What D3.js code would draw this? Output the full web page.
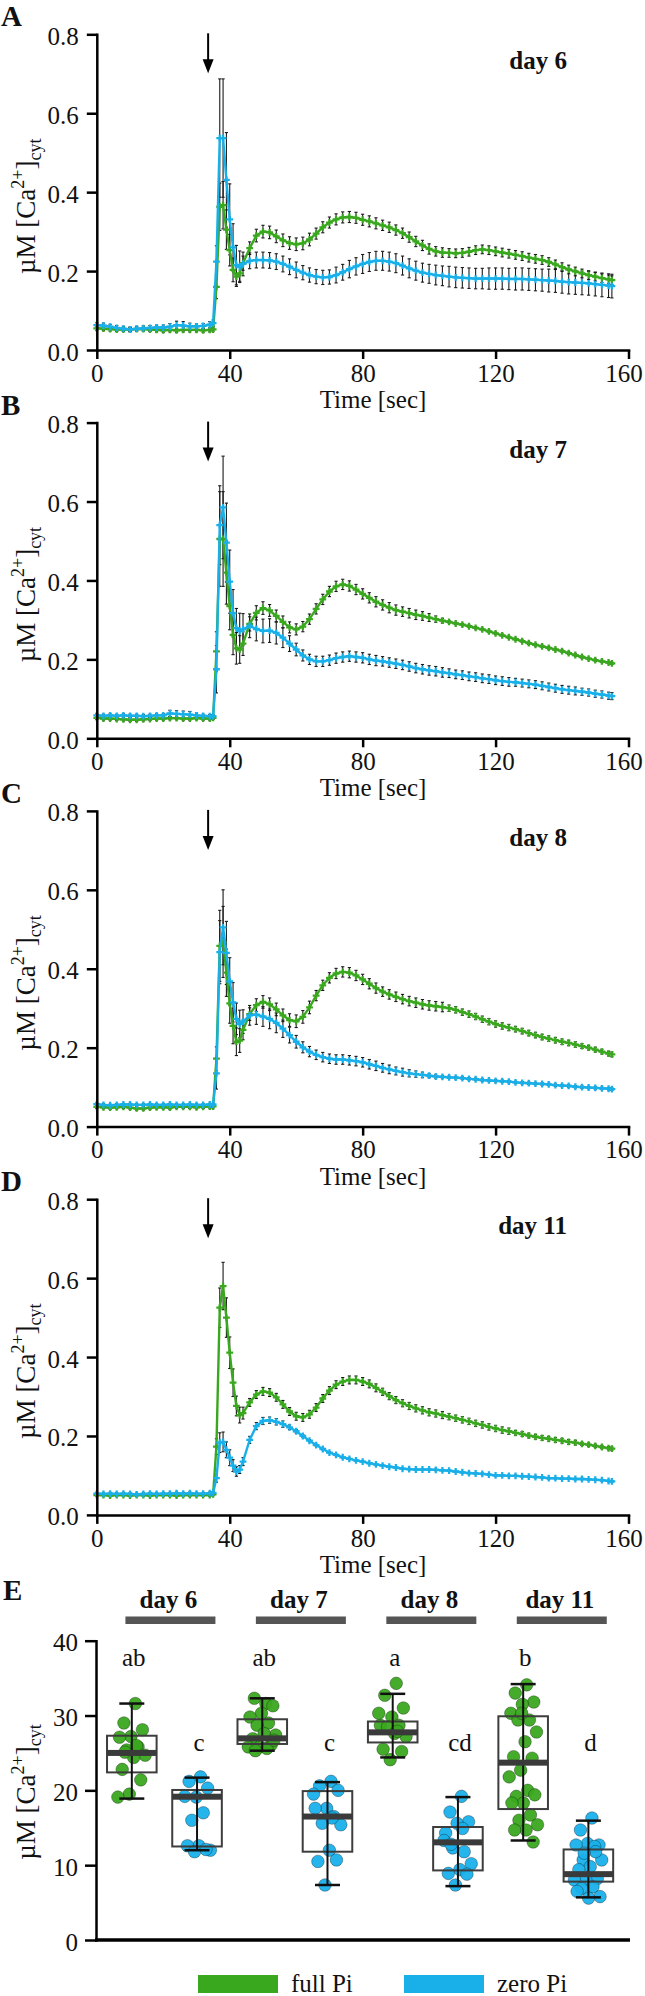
<!DOCTYPE html>
<html>
<head>
<meta charset="utf-8">
<script src="https://cdn.jsdelivr.net/npm/d3@7"></script>
<style>
  body { margin: 0; background: #fff; }
  svg { display: block; }
  text { font-family: "Liberation Serif", "Times New Roman", serif; fill: #111; }
</style>
</head>
<body>
<svg id="fig" width="645" height="1996"></svg>
<script>
// ---------- time courses (panels A-D) ----------
// sample times [sec]: 2 s steps on the baseline, 1 s around the peak, 2 s afterwards
const times = [
  0, 2, 4, 6, 8, 10, 12, 14, 16, 18, 20, 22, 24, 26, 28, 30, 32, 34,
  35, 36, 37, 38, 39, 40, 41, 42, 43, 44,
  46, 48, 50, 52, 54, 56, 58, 60, 62, 64,
  66, 68, 70, 72, 74, 76, 78, 80, 82, 84,
  86, 88, 90, 92, 94, 96, 98, 100, 102, 104,
  106, 108, 110, 112, 114, 116, 118, 120, 122, 124,
  126, 128, 130, 132, 134, 136, 138, 140, 142, 144,
  146, 148, 150, 152, 154, 155
];

// day 6
const fullA = [
  0.055, 0.054, 0.053, 0.052, 0.052, 0.052, 0.053, 0.053, 0.052, 0.051,
  0.05, 0.051, 0.05, 0.051, 0.051, 0.051, 0.05, 0.051,
  0.052, 0.16, 0.363, 0.367, 0.305, 0.253, 0.203, 0.186, 0.194, 0.22,
  0.258, 0.29, 0.3, 0.298, 0.288, 0.278, 0.271, 0.268, 0.27, 0.28,
  0.295, 0.311, 0.323, 0.331, 0.336, 0.337, 0.335, 0.33, 0.326, 0.321,
  0.316, 0.311, 0.304, 0.296, 0.286, 0.275, 0.265, 0.256, 0.25, 0.247,
  0.246, 0.245, 0.246, 0.249, 0.253, 0.255, 0.253, 0.25, 0.247, 0.244,
  0.241, 0.238, 0.234, 0.231, 0.228, 0.223, 0.217, 0.21, 0.204, 0.199,
  0.194, 0.19, 0.186, 0.182, 0.179, 0.177
];
const zeroA = [
  0.063, 0.062, 0.059, 0.056, 0.054, 0.052, 0.054, 0.055, 0.056, 0.057,
  0.057, 0.059, 0.063, 0.062, 0.06, 0.06, 0.061, 0.064,
  0.068, 0.224, 0.537, 0.537, 0.431, 0.331, 0.26, 0.215, 0.211, 0.218,
  0.226, 0.228, 0.228, 0.227, 0.224, 0.218, 0.211, 0.203, 0.196, 0.19,
  0.186, 0.184, 0.185, 0.19, 0.197, 0.205, 0.212, 0.218, 0.223, 0.226,
  0.226, 0.224, 0.22, 0.214, 0.207, 0.201, 0.196, 0.193, 0.19, 0.188,
  0.186, 0.184, 0.183, 0.182, 0.181, 0.181, 0.181, 0.181, 0.181, 0.18,
  0.18, 0.18, 0.179, 0.178, 0.177, 0.176, 0.175, 0.173, 0.172, 0.171,
  0.17, 0.169, 0.167, 0.165, 0.163, 0.162
];
const errFullA = [
  0.005, 0.005, 0.005, 0.005, 0.005, 0.005, 0.005, 0.005, 0.005, 0.005,
  0.005, 0.005, 0.005, 0.005, 0.005, 0.005, 0.005, 0.005,
  0.004, 0.03, 0.06, 0.06, 0.05, 0.04, 0.03, 0.025, 0.02, 0.018,
  0.016, 0.016, 0.016, 0.016, 0.016, 0.016, 0.016, 0.016, 0.016, 0.016,
  0.014, 0.014, 0.014, 0.014, 0.014, 0.014, 0.014, 0.014, 0.014, 0.014,
  0.013, 0.013, 0.013, 0.013, 0.013, 0.013, 0.013, 0.013, 0.012, 0.012,
  0.011, 0.011, 0.011, 0.011, 0.011, 0.011, 0.011, 0.011, 0.011, 0.011,
  0.011, 0.011, 0.011, 0.011, 0.011, 0.011, 0.011, 0.011, 0.011, 0.011,
  0.011, 0.011, 0.011, 0.011, 0.011, 0.011
];
const errZeroA = [
  0.006, 0.006, 0.006, 0.006, 0.006, 0.006, 0.006, 0.006, 0.006, 0.006,
  0.006, 0.008, 0.01, 0.01, 0.008, 0.006, 0.006, 0.008,
  0.008, 0.04, 0.15, 0.15, 0.12, 0.09, 0.06, 0.05, 0.04, 0.03,
  0.02, 0.02, 0.02, 0.02, 0.02, 0.02, 0.02, 0.02, 0.018, 0.018,
  0.018, 0.018, 0.018, 0.02, 0.02, 0.022, 0.022, 0.024, 0.024, 0.024,
  0.024, 0.024, 0.024, 0.024, 0.024, 0.024, 0.024, 0.024, 0.025, 0.025,
  0.026, 0.026, 0.026, 0.026, 0.026, 0.026, 0.027, 0.027, 0.027, 0.027,
  0.028, 0.028, 0.028, 0.028, 0.028, 0.029, 0.029, 0.029, 0.03, 0.03,
  0.03, 0.03, 0.03, 0.03, 0.03, 0.03
];

// day 7
const fullB = [
  0.052, 0.05, 0.05, 0.049, 0.048, 0.047, 0.047, 0.048, 0.049, 0.05,
  0.05, 0.051, 0.051, 0.05, 0.05, 0.051, 0.05, 0.05,
  0.052, 0.22, 0.505, 0.505, 0.42, 0.335, 0.262, 0.228, 0.225, 0.24,
  0.29, 0.318, 0.33, 0.324, 0.31, 0.295, 0.281, 0.276, 0.283, 0.302,
  0.328, 0.352, 0.372, 0.385, 0.39, 0.386, 0.377, 0.366, 0.356, 0.346,
  0.338, 0.331, 0.325, 0.321, 0.317, 0.313, 0.31, 0.306, 0.302, 0.298,
  0.295, 0.291, 0.288, 0.284, 0.28, 0.276, 0.271, 0.266, 0.261, 0.256,
  0.251, 0.246, 0.241, 0.237, 0.233, 0.229, 0.225, 0.221, 0.216, 0.211,
  0.206, 0.202, 0.198, 0.195, 0.192, 0.19
];
const zeroB = [
  0.058, 0.057, 0.058, 0.057, 0.058, 0.057, 0.057, 0.056, 0.057, 0.058,
  0.058, 0.063, 0.062, 0.061, 0.06, 0.058, 0.057, 0.056,
  0.056, 0.175, 0.54, 0.585, 0.496, 0.397, 0.317, 0.279, 0.272, 0.276,
  0.285, 0.277, 0.272, 0.273, 0.267, 0.255, 0.24, 0.225, 0.21, 0.2,
  0.195, 0.195, 0.198, 0.203, 0.206, 0.208, 0.206, 0.204, 0.2, 0.197,
  0.195, 0.192, 0.189, 0.186, 0.182, 0.178, 0.175, 0.172, 0.17, 0.167,
  0.165, 0.162, 0.16, 0.157, 0.155, 0.152, 0.15, 0.147, 0.145, 0.143,
  0.142, 0.14, 0.138, 0.136, 0.133, 0.13, 0.127, 0.124, 0.122, 0.12,
  0.118, 0.116, 0.113, 0.111, 0.108, 0.107
];
const errFullB = [
  0.004, 0.004, 0.004, 0.004, 0.004, 0.004, 0.004, 0.004, 0.004, 0.004,
  0.004, 0.004, 0.004, 0.004, 0.004, 0.004, 0.004, 0.004,
  0.004, 0.05, 0.12, 0.12, 0.08, 0.06, 0.05, 0.04, 0.035, 0.03,
  0.018, 0.018, 0.016, 0.015, 0.015, 0.015, 0.014, 0.014, 0.013, 0.013,
  0.013, 0.013, 0.013, 0.013, 0.013, 0.013, 0.013, 0.013, 0.013, 0.013,
  0.013, 0.013, 0.013, 0.012, 0.012, 0.012, 0.011, 0.01, 0.008, 0.006,
  0.003, 0.003, 0.003, 0.003, 0.003, 0.003, 0.003, 0.003, 0.003, 0.003,
  0.003, 0.003, 0.003, 0.003, 0.003, 0.003, 0.003, 0.003, 0.003, 0.003,
  0.003, 0.003, 0.003, 0.003, 0.003, 0.003
];
const errZeroB = [
  0.004, 0.004, 0.004, 0.004, 0.004, 0.004, 0.004, 0.004, 0.004, 0.004,
  0.004, 0.008, 0.008, 0.008, 0.008, 0.006, 0.004, 0.004,
  0.004, 0.06, 0.1, 0.13, 0.1, 0.08, 0.06, 0.05, 0.045, 0.04,
  0.03, 0.03, 0.03, 0.03, 0.028, 0.025, 0.02, 0.016, 0.014, 0.013,
  0.013, 0.013, 0.013, 0.013, 0.013, 0.013, 0.013, 0.013, 0.013, 0.013,
  0.012, 0.012, 0.012, 0.012, 0.012, 0.012, 0.012, 0.012, 0.012, 0.012,
  0.011, 0.011, 0.011, 0.011, 0.011, 0.011, 0.011, 0.011, 0.011, 0.011,
  0.01, 0.01, 0.01, 0.01, 0.01, 0.01, 0.01, 0.01, 0.01, 0.01,
  0.009, 0.009, 0.009, 0.009, 0.009, 0.009
];

// day 8
const fullC = [
  0.05, 0.049, 0.048, 0.049, 0.05, 0.048, 0.046, 0.046, 0.048, 0.049,
  0.049, 0.048, 0.05, 0.05, 0.05, 0.049, 0.05, 0.051,
  0.051, 0.172, 0.458, 0.468, 0.39, 0.312, 0.255, 0.215, 0.218, 0.245,
  0.285, 0.308, 0.316, 0.31, 0.297, 0.282, 0.27, 0.267, 0.278, 0.302,
  0.332, 0.358, 0.377, 0.388, 0.392, 0.39, 0.383, 0.373, 0.362, 0.351,
  0.342, 0.335, 0.329, 0.323, 0.318, 0.314, 0.31, 0.307, 0.305, 0.303,
  0.3, 0.296, 0.29, 0.285, 0.279, 0.272, 0.266, 0.26, 0.255, 0.251,
  0.247, 0.242, 0.237, 0.232, 0.227, 0.223, 0.219, 0.215, 0.212, 0.208,
  0.204, 0.2, 0.195, 0.19, 0.185, 0.183
];
const zeroC = [
  0.057, 0.055, 0.054, 0.055, 0.056, 0.056, 0.055, 0.055, 0.056, 0.055,
  0.055, 0.056, 0.055, 0.055, 0.056, 0.055, 0.055, 0.056,
  0.056, 0.135, 0.442, 0.505, 0.44, 0.368, 0.315, 0.273, 0.26, 0.266,
  0.282, 0.284, 0.279, 0.273, 0.263, 0.248, 0.232, 0.215, 0.201, 0.19,
  0.182, 0.176, 0.172, 0.17, 0.17, 0.168, 0.166, 0.163, 0.158, 0.154,
  0.149, 0.145, 0.141, 0.138, 0.135, 0.133, 0.131, 0.129, 0.127, 0.126,
  0.125, 0.124, 0.123, 0.121, 0.12, 0.118, 0.117, 0.116, 0.115, 0.114,
  0.112, 0.111, 0.11, 0.109, 0.108, 0.107, 0.105, 0.104, 0.103, 0.101,
  0.1, 0.099, 0.098, 0.097, 0.096, 0.095
];
const errFullC = [
  0.004, 0.004, 0.004, 0.004, 0.004, 0.004, 0.004, 0.004, 0.004, 0.004,
  0.004, 0.004, 0.004, 0.004, 0.004, 0.004, 0.004, 0.004,
  0.004, 0.03, 0.09, 0.09, 0.06, 0.05, 0.045, 0.035, 0.03, 0.025,
  0.016, 0.016, 0.016, 0.016, 0.016, 0.016, 0.016, 0.016, 0.016, 0.016,
  0.013, 0.013, 0.013, 0.013, 0.013, 0.013, 0.013, 0.013, 0.013, 0.013,
  0.012, 0.012, 0.012, 0.012, 0.012, 0.012, 0.012, 0.012, 0.012, 0.012,
  0.008, 0.008, 0.008, 0.008, 0.008, 0.008, 0.008, 0.008, 0.008, 0.008,
  0.007, 0.007, 0.007, 0.007, 0.007, 0.007, 0.007, 0.007, 0.007, 0.007,
  0.006, 0.006, 0.006, 0.006, 0.006, 0.006
];
const errZeroC = [
  0.003, 0.003, 0.003, 0.003, 0.003, 0.003, 0.003, 0.003, 0.003, 0.003,
  0.003, 0.003, 0.003, 0.003, 0.003, 0.003, 0.003, 0.003,
  0.003, 0.04, 0.08, 0.095, 0.08, 0.06, 0.05, 0.04, 0.035, 0.03,
  0.025, 0.025, 0.025, 0.025, 0.025, 0.022, 0.02, 0.016, 0.014, 0.013,
  0.012, 0.012, 0.012, 0.012, 0.012, 0.012, 0.012, 0.012, 0.012, 0.012,
  0.011, 0.011, 0.01, 0.01, 0.009, 0.008, 0.007, 0.005, 0.004, 0.003,
  0.003, 0.003, 0.003, 0.003, 0.003, 0.003, 0.003, 0.003, 0.003, 0.003,
  0.003, 0.003, 0.003, 0.003, 0.003, 0.003, 0.003, 0.003, 0.003, 0.003,
  0.003, 0.003, 0.003, 0.003, 0.003, 0.003
];

// day 11
const fullD = [
  0.05, 0.05, 0.049, 0.05, 0.05, 0.049, 0.05, 0.05, 0.049, 0.05,
  0.05, 0.05, 0.049, 0.05, 0.05, 0.05, 0.05, 0.05,
  0.052, 0.173, 0.525, 0.58, 0.5, 0.411, 0.335, 0.276, 0.253, 0.258,
  0.285, 0.305, 0.313, 0.31, 0.298, 0.28, 0.262, 0.25, 0.247, 0.255,
  0.272, 0.295, 0.315, 0.33, 0.338, 0.342, 0.342, 0.338, 0.332, 0.322,
  0.312, 0.301, 0.291, 0.283, 0.276, 0.27, 0.265, 0.26, 0.257, 0.253,
  0.249, 0.245, 0.241, 0.237, 0.232, 0.228, 0.223, 0.219, 0.215, 0.212,
  0.208, 0.205, 0.201, 0.198, 0.195, 0.193, 0.19, 0.188, 0.185, 0.183,
  0.18, 0.178, 0.175, 0.172, 0.169, 0.168
];
const zeroD = [
  0.054, 0.053, 0.054, 0.053, 0.054, 0.053, 0.052, 0.053, 0.054, 0.053,
  0.054, 0.054, 0.055, 0.054, 0.055, 0.054, 0.054, 0.055,
  0.056, 0.093, 0.183, 0.185, 0.165, 0.145, 0.125, 0.11, 0.115, 0.135,
  0.19, 0.225, 0.238, 0.24, 0.236, 0.23, 0.222, 0.212, 0.2, 0.188,
  0.177, 0.167, 0.158, 0.152, 0.146, 0.142, 0.138, 0.135, 0.131, 0.128,
  0.125, 0.122, 0.12, 0.117, 0.116, 0.115, 0.115, 0.115, 0.114, 0.113,
  0.112, 0.11, 0.108, 0.106, 0.105, 0.104, 0.102, 0.1, 0.1, 0.099,
  0.099, 0.098, 0.097, 0.096, 0.095, 0.093, 0.093, 0.092, 0.092, 0.091,
  0.091, 0.09, 0.089, 0.088, 0.086, 0.085
];
const errFullD = [
  0.003, 0.003, 0.003, 0.003, 0.003, 0.003, 0.003, 0.003, 0.003, 0.003,
  0.003, 0.003, 0.003, 0.003, 0.003, 0.003, 0.003, 0.003,
  0.003, 0.02, 0.05, 0.06, 0.05, 0.04, 0.035, 0.025, 0.02, 0.015,
  0.01, 0.01, 0.01, 0.01, 0.01, 0.01, 0.01, 0.01, 0.01, 0.01,
  0.01, 0.01, 0.01, 0.01, 0.01, 0.01, 0.01, 0.01, 0.01, 0.01,
  0.009, 0.009, 0.009, 0.009, 0.009, 0.009, 0.009, 0.009, 0.009, 0.009,
  0.008, 0.008, 0.008, 0.008, 0.008, 0.008, 0.008, 0.008, 0.008, 0.008,
  0.006, 0.006, 0.006, 0.006, 0.006, 0.006, 0.006, 0.006, 0.006, 0.006,
  0.004, 0.004, 0.004, 0.004, 0.004, 0.004
];
const errZeroD = [
  0.003, 0.003, 0.003, 0.003, 0.003, 0.003, 0.003, 0.003, 0.003, 0.003,
  0.003, 0.003, 0.003, 0.003, 0.003, 0.003, 0.003, 0.003,
  0.003, 0.01, 0.025, 0.025, 0.02, 0.02, 0.015, 0.012, 0.01, 0.01,
  0.009, 0.009, 0.009, 0.008, 0.008, 0.008, 0.006, 0.004, 0.003, 0.003,
  0.002, 0.002, 0.002, 0.002, 0.002, 0.002, 0.002, 0.002, 0.002, 0.002,
  0.002, 0.002, 0.002, 0.002, 0.002, 0.002, 0.002, 0.002, 0.002, 0.002,
  0.002, 0.002, 0.002, 0.002, 0.002, 0.002, 0.002, 0.002, 0.002, 0.002,
  0.002, 0.002, 0.002, 0.002, 0.002, 0.002, 0.002, 0.002, 0.002, 0.002,
  0.002, 0.002, 0.002, 0.002, 0.002, 0.002
];

const panelLetters = ['A', 'B', 'C', 'D'];
const panelDays = ['day 6', 'day 7', 'day 8', 'day 11'];
const timeTicks = [0, 40, 80, 120, 160];
const caTicks = [0, 0.2, 0.4, 0.6, 0.8];
const stimulusTime = 33.5; // arrow

// ---------- box plots (panel E) ----------
const boxNames = ['full6', 'zero6', 'full7', 'zero7', 'full8', 'zero8', 'full11', 'zero11'];
const boxDays = ['day 6', 'day 7', 'day 8', 'day 11'];
const sigLetters = ['ab', 'c', 'ab', 'c', 'a', 'cd', 'b', 'd'];
const whiskerLow = [18.9, 12.0, 25.3, 7.35, 24.4, 7.2, 13.3, 5.7];
const q1 = [22.4, 12.5, 26.2, 11.8, 26.4, 9.3, 17.5, 7.8];
const median = [25.0, 19.15, 26.95, 16.5, 27.75, 13.05, 23.7, 8.8];
const q3 = [27.3, 20.05, 29.5, 19.9, 29.2, 15.1, 29.9, 12.1];
const whiskerHigh = [31.6, 21.7, 32.3, 21.1, 32.9, 19.1, 34.2, 15.95];
const points = [
  [31.6, 29.0, 28.1, 27.2, 27.1, 25.8, 25.4, 24.7, 24.4, 22.8, 21.4, 19.5, 19.1, 26.0, 25.1],
  [21.8, 21.2, 20.3, 19.1, 19.2, 17.0, 16.0, 12.0, 12.6, 12.6, 12.1, 11.8],
  [31.6, 32.3, 31.3, 30.3, 29.8, 29.0, 28.7, 27.4, 27.6, 26.9, 26.1, 25.8, 25.8, 25.6, 25.3, 26.7],
  [21.2, 20.6, 20.0, 17.6, 17.6, 16.5, 15.6, 15.4, 12.0, 10.5, 10.7, 7.35, 19.5, 16.3],
  [34.3, 32.7, 31.0, 29.8, 28.7, 28.7, 28.5, 27.2, 27.6, 25.5, 25.2, 24.1, 30.3, 27.9],
  [19.2, 17.1, 15.8, 15.6, 14.3, 11.8, 12.3, 10.2, 9.4, 8.9, 8.8, 7.35, 13.3, 14.9, 12.8],
  [34.1, 33.0, 31.8, 31.5, 30.3, 29.4, 29.4, 27.8, 26.5, 24.5, 24.3, 22.7, 21.8, 20.0, 19.2,
   19.4, 18.3, 18.3, 16.7, 16.0, 15.4, 14.7, 14.7, 13.1, 30.3],
  [16.3, 14.7, 12.7, 12.9, 12.7, 12.5, 10.7, 10.7, 9.8, 9.4, 8.2, 8.0, 8.0, 7.1, 6.9,
   5.8, 5.6, 6.5, 11.8, 11.6]
];
const eTicks = [0, 10, 20, 30, 40];
const legendLabels = ['full Pi', 'zero Pi'];

const green = '#3aa81f';
const blue = '#19b0ea';

const svg = d3.select('#fig');

function styleAxis(a, size) {
  a.select('.domain').attr('stroke', '#000').attr('stroke-width', 2.5).attr('stroke-linecap', 'square');
  a.selectAll('.tick line').attr('stroke', '#000').attr('stroke-width', 2.5);
  a.selectAll('.tick text').attr('font-size', size).attr('fill', '#111')
    .attr('font-family', '"Liberation Serif", serif');
}

function caLabel(sel) {
  sel.append('tspan').text('\u00b5M [Ca');
  sel.append('tspan').attr('dy', -11).attr('font-size', 18).text('2+');
  sel.append('tspan').attr('dy', 11).text(']');
  sel.append('tspan').attr('dy', 6).attr('font-size', 18).text('cyt');
}

////////////////////////
///// PANELS A - D /////
////////////////////////

const xTime = d3.scaleLinear().domain([0, 160]).range([96.8, 628.5]);
const traces = [
  { full: fullA, fullErr: errFullA, zero: zeroA, zeroErr: errZeroA },
  { full: fullB, fullErr: errFullB, zero: zeroB, zeroErr: errZeroB },
  { full: fullC, fullErr: errFullC, zero: zeroC, zeroErr: errZeroC },
  { full: fullD, fullErr: errFullD, zero: zeroD, zeroErr: errZeroD }
];

traces.forEach((p, i) => {
  const top = 34.3 + i * 388.3;
  const bottom = top + 315.7;
  const y = d3.scaleLinear().domain([0, 0.8]).range([bottom, top]);
  const g = svg.append('g');

  const series = [
    { vals: p.full, errs: p.fullErr, color: green },
    { vals: p.zero, errs: p.zeroErr, color: blue }
  ].map((s) => ({
    color: s.color,
    pts: times.map((t, k) => ({ t, v: s.vals[k], e: s.errs[k] || 0 })).filter((d) => d.v != null)
  }));

  // error bars under the traces
  series.forEach((s) => {
    const eb = g.append('g').attr('stroke', '#1b1b1b').attr('stroke-width', 1.1);
    eb.selectAll('line.bar').data(s.pts).join('line').attr('class', 'bar')
      .attr('x1', (d) => xTime(d.t)).attr('x2', (d) => xTime(d.t))
      .attr('y1', (d) => y(d.v + d.e)).attr('y2', (d) => y(d.v - d.e));
    eb.selectAll('line.capt').data(s.pts).join('line').attr('class', 'capt')
      .attr('x1', (d) => xTime(d.t) - 1.6).attr('x2', (d) => xTime(d.t) + 1.6)
      .attr('y1', (d) => y(d.v + d.e)).attr('y2', (d) => y(d.v + d.e));
    eb.selectAll('line.capb').data(s.pts).join('line').attr('class', 'capb')
      .attr('x1', (d) => xTime(d.t) - 1.6).attr('x2', (d) => xTime(d.t) + 1.6)
      .attr('y1', (d) => y(d.v - d.e)).attr('y2', (d) => y(d.v - d.e));
  });

  const line = d3.line().x((d) => xTime(d.t)).y((d) => y(d.v));
  series.forEach((s) => {
    g.append('path').datum(s.pts).attr('fill', 'none').attr('stroke', s.color)
      .attr('stroke-width', 2.4).attr('d', line);
    g.append('g').selectAll('path').data(s.pts).join('path')
      .attr('transform', (d) => `translate(${xTime(d.t)},${y(d.v)})`)
      .attr('d', d3.symbol(d3.symbolCross, 26))
      .attr('fill', s.color);
  });

  // axes
  const xa = g.append('g').attr('transform', `translate(0,${bottom})`)
    .call(d3.axisBottom(xTime).tickValues(timeTicks).tickSize(9).tickSizeOuter(0)
      .tickPadding(5).tickFormat(d3.format('d')));
  styleAxis(xa, 25);
  xa.selectAll('.tick text').filter((d) => d === 160).attr('dx', -5);
  const ya = g.append('g').attr('transform', `translate(${xTime(0)},0)`)
    .call(d3.axisLeft(y).tickValues(caTicks).tickSize(10).tickSizeOuter(0)
      .tickPadding(8).tickFormat(d3.format('.1f')));
  styleAxis(ya, 25);
  ya.selectAll('.tick text').attr('dy', '0.4em');

  g.append('text').attr('x', 373).attr('y', bottom + 58).attr('text-anchor', 'middle')
    .attr('font-size', 25).text('Time [sec]');
  g.append('text').attr('transform', `translate(35,${top + 172}) rotate(-90)`)
    .attr('text-anchor', 'middle').attr('font-size', 27).call(caLabel);

  // stimulus arrow
  const ax = xTime(stimulusTime);
  g.append('line').attr('x1', ax).attr('x2', ax).attr('y1', top - 1).attr('y2', top + 30)
    .attr('stroke', '#000').attr('stroke-width', 2);
  g.append('path').attr('d', `M${ax - 5.5},${top + 25}L${ax + 5.5},${top + 25}L${ax},${top + 39}Z`)
    .attr('fill', '#000');

  g.append('text').attr('x', 567).attr('y', top + 35).attr('text-anchor', 'end')
    .attr('font-size', 25).attr('font-weight', 'bold').text(panelDays[i]);
  g.append('text').attr('x', 1).attr('y', top - 8)
    .attr('font-family', '"Liberation Sans", Arial, sans-serif')
    .attr('font-size', 29).attr('font-weight', 'bold').text(panelLetters[i]);
});

////////////////////////
/////// PANEL E ////////
////////////////////////

const eTop = 1640.7, eBottom = 1940, eAxisX = 96;
const yE = d3.scaleLinear().domain([0, 40]).range([eBottom, eTop]);
const xBox = d3.scaleBand().domain(boxNames).range([99.2, 621]).paddingInner(0.24).paddingOuter(0.12);
const bw = xBox.bandwidth();
const ge = svg.append('g');

// steady horizontal spread of the points inside a box (golden-ratio sequence)
const spread = (j) => ((((j + 1) * 0.618034) % 1) - 0.5) * 30;

boxNames.forEach((name, k) => {
  const x0 = xBox(name);
  const cx = x0 + bw / 2;
  const col = k % 2 === 0 ? green : blue;

  ge.append('g').selectAll('circle').data(points[k]).join('circle')
    .attr('cx', (v, j) => cx + spread(j)).attr('cy', (v) => yE(v)).attr('r', 6.3)
    .attr('fill', col).attr('fill-opacity', 0.95)
    .attr('stroke', 'rgba(0,0,0,0.3)').attr('stroke-width', 1);

  ge.append('rect').attr('x', x0).attr('y', yE(q3[k])).attr('width', bw)
    .attr('height', yE(q1[k]) - yE(q3[k]))
    .attr('fill', 'none').attr('stroke', '#3d3d3d').attr('stroke-width', 2);
  ge.append('line').attr('x1', cx).attr('x2', cx)
    .attr('y1', yE(whiskerHigh[k])).attr('y2', yE(whiskerLow[k]))
    .attr('stroke', '#111').attr('stroke-width', 2);
  [whiskerLow[k], whiskerHigh[k]].forEach((v) => {
    ge.append('line').attr('x1', cx - 12.5).attr('x2', cx + 12.5)
      .attr('y1', yE(v)).attr('y2', yE(v)).attr('stroke', '#111').attr('stroke-width', 2.5);
  });
  ge.append('rect').attr('x', x0).attr('y', yE(median[k]) - 3).attr('width', bw)
    .attr('height', 6).attr('fill', '#3a3a3a');

  ge.append('text').attr('x', cx + 2).attr('y', yE(k % 2 === 0 ? 36.6 : 25.3))
    .attr('text-anchor', 'middle').attr('font-size', 25).text(sigLetters[k]);
});

// day headers with grey bars
boxDays.forEach((day, gi) => {
  const c = (xBox(boxNames[2 * gi]) + xBox(boxNames[2 * gi + 1]) + bw) / 2 + 6;
  ge.append('text').attr('x', c - 2).attr('y', 1608).attr('text-anchor', 'middle')
    .attr('font-size', 25).attr('font-weight', 'bold').text(day);
  ge.append('rect').attr('x', c - 45).attr('y', 1616.5).attr('width', 90).attr('height', 7.5)
    .attr('fill', '#555');
});

const yaE = ge.append('g').attr('transform', `translate(${eAxisX},0)`)
  .call(d3.axisLeft(yE).tickValues(eTicks).tickSize(11).tickSizeOuter(0).tickPadding(7));
styleAxis(yaE, 25);
yaE.selectAll('.tick text').attr('dy', '0.4em');
ge.append('line').attr('x1', eAxisX - 1).attr('x2', 630).attr('y1', eBottom).attr('y2', eBottom)
  .attr('stroke', '#000').attr('stroke-width', 3.5);

ge.append('text').attr('transform', `translate(35,1792) rotate(-90)`)
  .attr('text-anchor', 'middle').attr('font-size', 27).call(caLabel);
ge.append('text').attr('x', 3).attr('y', 1600)
  .attr('font-family', '"Liberation Sans", Arial, sans-serif')
  .attr('font-size', 29).attr('font-weight', 'bold').text('E');

// legend
const legend = ge.append('g');
[green, blue].forEach((col, li) => {
  const lx = 198 + li * 206;
  legend.append('rect').attr('x', lx).attr('y', 1975).attr('width', 80).attr('height', 18)
    .attr('fill', col);
  legend.append('text').attr('x', lx + 93).attr('y', 1992).attr('font-size', 25)
    .text(legendLabels[li]);
});
</script>
</body>
</html>
